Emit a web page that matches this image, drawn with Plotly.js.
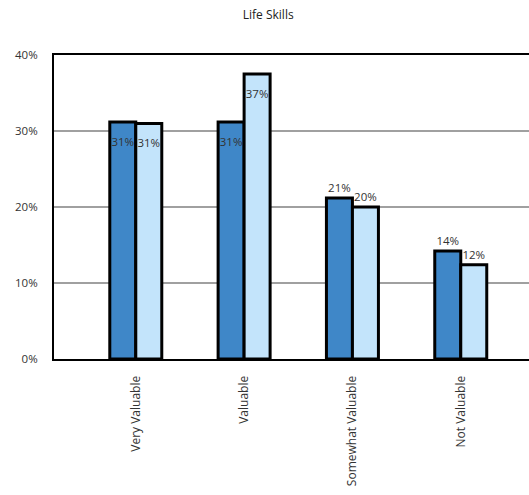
<!DOCTYPE html>
<html>
<head>
<meta charset="utf-8">
<script src="https://cdn.plot.ly/plotly-3.0.1.min.js"></script>
<style>html,body{margin:0;padding:0;background:#fff;}#chart{width:529px;height:495px;}</style>
</head>
<body>
<div id="chart"></div>
<script>
var categories = ["Very Valuable", "Valuable", "Somewhat Valuable", "Not Valuable"];
var seriesA = [0.312, 0.312, 0.212, 0.142];
var seriesB = [0.310, 0.375, 0.200, 0.124];
var labelsA = ["31%", "31%", "21%", "14%"];
var labelsB = ["31%", "37%", "20%", "12%"];
var tickVals = [0, 0.1, 0.2, 0.3, 0.4];
var tickText = ["0%", "10%", "20%", "30%", "40%"];

var pos = ["inside", "inside", "outside", "outside"];
var tmpl = ["<span style='font-size:6px'>\u00a0</span><br>%{text}", "<span style='font-size:6px'>\u00a0</span><br>%{text}", "%{text}", "%{text}"];
var fam = "Open Sans, DejaVu Sans, sans-serif";
var font = {family: fam, size: 11.5, color: "#333"};

var traces = [
  {type: "bar", x: categories, y: seriesA, text: labelsA, texttemplate: tmpl, textposition: pos, textangle: 0,
   insidetextanchor: "end", textfont: font, constraintext: "none", cliponaxis: false,
   marker: {color: "#3f87c8", line: {color: "#000", width: 3}}, hoverinfo: "none"},
  {type: "bar", x: categories, y: seriesB, text: labelsB, texttemplate: tmpl, textposition: pos, textangle: 0,
   insidetextanchor: "end", textfont: font, constraintext: "none", cliponaxis: false,
   marker: {color: "#c3e4fb", line: {color: "#000", width: 3}}, hoverinfo: "none"}
];

var layout = {
  width: 529, height: 495,
  margin: {l: 54, r: 0, t: 55, b: 136},
  paper_bgcolor: "#fff", plot_bgcolor: "#fff",
  showlegend: false,
  barmode: "group", bargap: 0.52, bargroupgap: 0,
  title: {text: "Life Skills", x: 0.507, xanchor: "center", y: 0.97, yanchor: "middle",
          font: {family: fam, size: 12, color: "#222"}},
  xaxis: {type: "category", range: [-0.755, 3.63], showgrid: false, zeroline: false,
          showline: true, linecolor: "#000", linewidth: 2, mirror: true,
          ticks: "", tickangle: -90, ticklabelstandoff: 10,
          tickfont: {family: fam, size: 12, color: "#333"}},
  yaxis: {range: [0, 0.4], tickvals: tickVals, ticktext: tickText,
          showgrid: true, gridcolor: "#a0a0a0", gridwidth: 2, zeroline: false,
          showline: true, linecolor: "#000", linewidth: 2, mirror: true, ticks: "",
          ticklabelstandoff: 12,
          tickfont: {family: fam, size: 11.5, color: "#333"}}
};

Plotly.newPlot("chart", traces, layout, {staticPlot: true, displayModeBar: false});
</script>
</body>
</html>
